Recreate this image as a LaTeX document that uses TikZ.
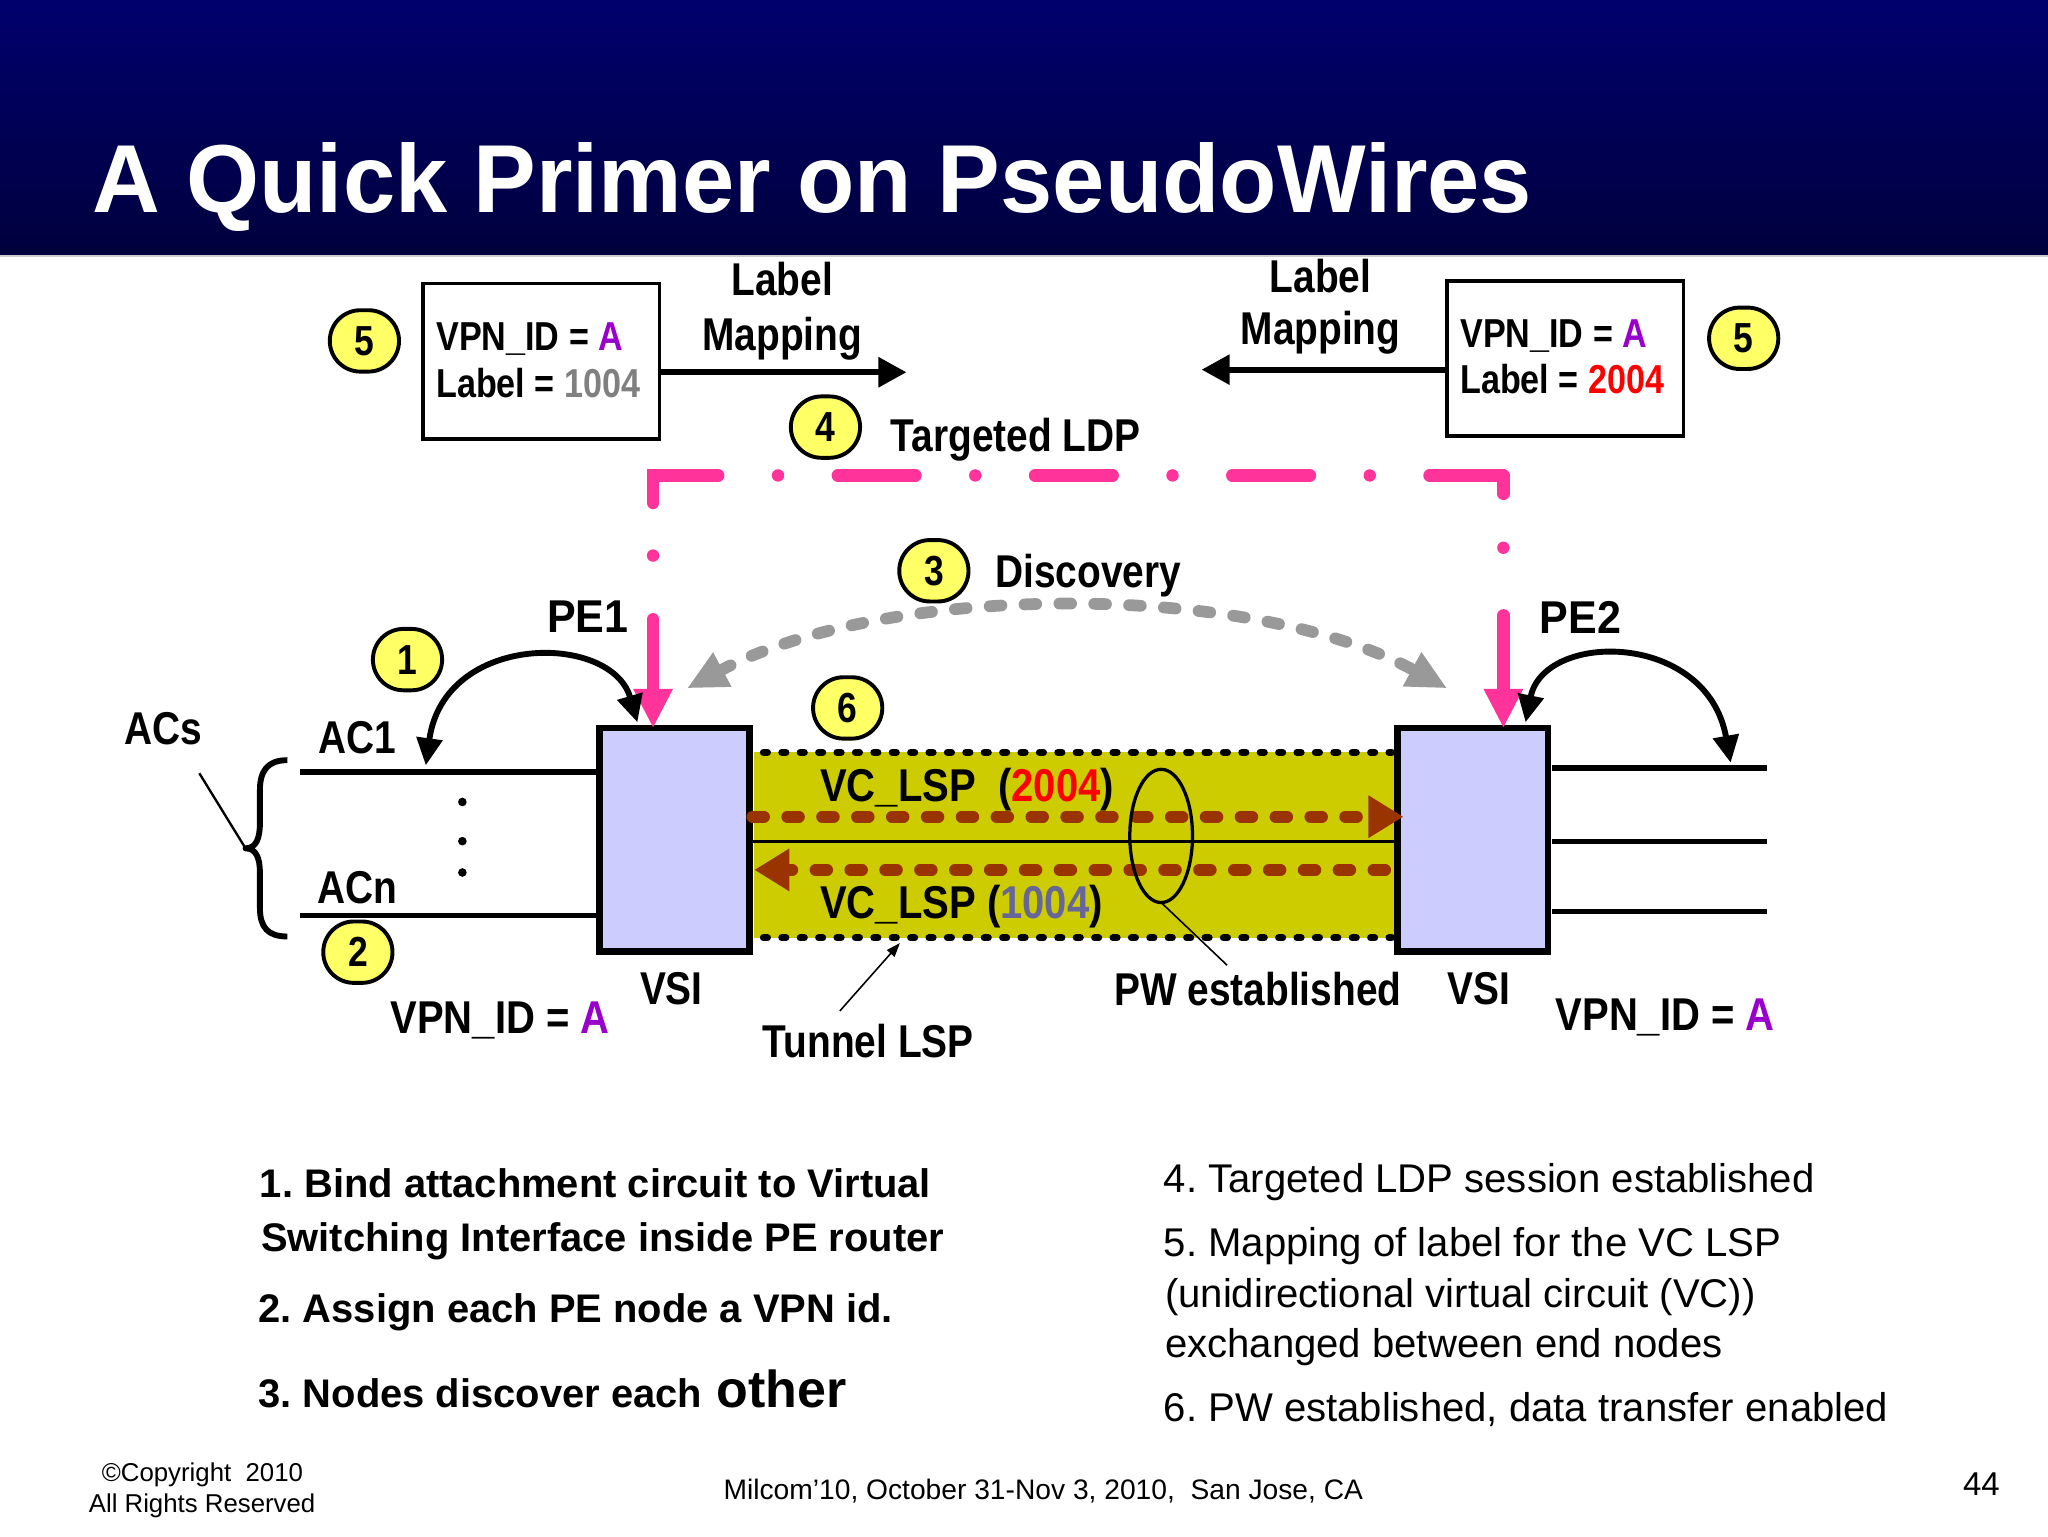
\documentclass[tikz,border=0pt]{standalone}
\usepackage{fontspec}
\usetikzlibrary{arrows.meta,shapes.geometric}
\setmainfont{Liberation Sans}
\newfontfamily\titlesans{Liberation Sans}[FakeStretch=0.972]
\newfontfamily\narrowsans{Liberation Sans}[FakeStretch=0.845]
\newfontfamily\midsans{Liberation Sans}[FakeStretch=0.87]
\newfontfamily\widesans{Liberation Sans}[FakeStretch=0.935]
\def\pxu{0.65306pt}
\frenchspacing
\definecolor{vsiblue}{HTML}{CCCCFF}
\definecolor{tunnel}{HTML}{CCCC00}
\definecolor{badge}{HTML}{FFFF66}
\definecolor{pinkl}{HTML}{FF3399}
\definecolor{brownl}{HTML}{993300}
\definecolor{greyl}{HTML}{999999}
\definecolor{purpA}{HTML}{9900CC}
\definecolor{grey1}{HTML}{808080}
\definecolor{blue1}{HTML}{666699}
\tikzset{
  txt/.style={anchor=base west, inner sep=0, outer sep=0},
  lab/.style={txt, font=\narrowsans\bfseries\fontsize{23}{26}\selectfont},
  labv/.style={txt, font=\midsans\bfseries\fontsize{23}{26}\selectfont},
  labp/.style={txt, font=\widesans\bfseries\fontsize{23}{26}\selectfont},
  labm/.style={txt, font=\narrowsans\bfseries\fontsize{20.2}{24}\selectfont},
  labc/.style={lab, anchor=base},
  stepl/.style={txt, font=\bfseries\fontsize{19.95}{24}\selectfont},
  stepr/.style={txt, font=\fontsize{20.05}{24}\selectfont},
  foot/.style={txt, font=\fontsize{12.9}{16}\selectfont},
  num/.style={draw, fill=badge, line width=3*\pxu, rounded corners=15.3pt, minimum width=53*\pxu, minimum height=47*\pxu,
    inner sep=0, outer sep=0, font=\narrowsans\bfseries\fontsize{21}{24}\selectfont},
  infobox/.style={draw, fill=white, line width=2.8*\pxu, minimum width=181*\pxu, minimum height=119*\pxu, inner sep=0, outer sep=0},
  vsi/.style={draw, fill=vsiblue, line width=5*\pxu, minimum width=115*\pxu, minimum height=171*\pxu, inner sep=0, outer sep=0},
  wire/.style={line width=4*\pxu},
  bigarrow/.style={line width=4.5*\pxu, -{Triangle[length=14pt,width=14.5pt]}},
  bendarrow/.style={line width=4.5*\pxu, {Triangle[length=13.6pt,width=12.6pt]}-{Triangle[length=13.6pt,width=12.6pt]}},
  pinkline/.style={pinkl, line width=9.5*\pxu, line cap=round, {Triangle[length=19.6pt,width=18.3pt]}-},
  dotrow/.style={line width=5.5*\pxu, line cap=round, dash pattern=on 2pt off 7.2pt, shorten <=7*\pxu, shorten >=3*\pxu},
  vclsp/.style={brownl, line width=9*\pxu, line cap=round, dash pattern=on 9*\pxu off 17.7*\pxu, -{Triangle[length=17.6pt,width=20.2pt]}},
  disc/.style={greyl, line width=9*\pxu, line cap=round, dash pattern=on 9*\pxu off 17.7*\pxu,
    {Triangle[length=20pt,width=18pt]}-{Triangle[length=20pt,width=18pt]}},
  leader/.style={line width=1.2*\pxu},
}
\begin{document}
\begin{tikzpicture}[x=\pxu,y=-\pxu]
\useasboundingbox (0,0) rectangle (1568,1176);

% Titelband
\node[rectangle, top color=blue!43!black, bottom color=blue!24!black, minimum width=1568*\pxu, minimum height=196*\pxu,
  inner sep=0, outer sep=0, anchor=north west] (banner) at (0,0) {};
\draw[gray!40, line width=0.8*\pxu] (banner.south west) -- (banner.south east);
\node[txt, text=white, font=\titlesans\bfseries\fontsize{48.3}{50}\selectfont] (title) at (71,163) {A Quick Primer on PseudoWires};

% Tunnel und VSI
\node[fill=tunnel, minimum width=491*\pxu, minimum height=142*\pxu, inner sep=0, outer sep=0] (tun) at (823,647) {};
\draw[dotrow] (tun.north west) -- (tun.north east);
\draw[dotrow] (tun.south west) -- (tun.south east);
\coordinate (midl) at (576,644);
\coordinate (midr) at (1069,644);
\draw[line width=2.5*\pxu] (midl) -- (midr);
\node[vsi] (vsi1) at (516.5,643) {};
\node[vsi] (vsi2) at (1127.5,643) {};

% VC LSP
\node[labv] (vc1) at (628,614) {VC\_LSP~ (\textcolor{red}{2004})};
\node[labv] (vc2) at (628,703) {VC\_LSP (\textcolor{blue1}{1004})};
\coordinate (fwa) at (576,625.3);
\coordinate (fwb) at (1074.5,625.3);
\coordinate (bwa) at (1060.5,666);
\coordinate (bwb) at (577.5,666);
\draw[vclsp] (fwa) -- (fwb);
\draw[vclsp] (bwa) -- (bwb);

% PW Ellipse
\node[draw, ellipse, line width=2.5*\pxu, minimum width=48*\pxu, minimum height=102*\pxu, inner sep=0, outer sep=0] (pw) at (889,640) {};
\node[lab] (pwl) at (853,770) {PW established};
\coordinate (pwe) at (939.5,739);
\draw[leader] (pw.south) -- (pwe);

% Infoboxen
\node[infobox] (box1) at (414.5,276.5) {};
\node[infobox] (box2) at (1198.5,274.5) {};
\node[labm] (b1a) at (334,268) {VPN\_ID = \textcolor{purpA}{A}};
\node[labm] (b1b) at (334,304) {Label = \textcolor{grey1}{1004}};
\node[labm] (b2a) at (1118,266) {VPN\_ID = \textcolor{purpA}{A}};
\node[labm] (b2b) at (1118,301) {Label = \textcolor{red}{2004}};

% Label Mapping
\node[labc] (lm1a) at (599,226) {Label};
\node[labc] (lm1b) at (599,268) {Mapping};
\node[labc] (lm2a) at (1011,224) {Label};
\node[labc] (lm2b) at (1011,264) {Mapping};
\coordinate (lmt1) at (694,285);
\coordinate (lmt2) at (920,283);
\draw[bigarrow] (box1.east |- lmt1) -- (lmt1);
\draw[bigarrow] (box2.west |- lmt2) -- (lmt2);

% Targeted LDP
\coordinate (tl) at (500,364);
\coordinate (tr) at (1151,364);
\draw[pinkline, dash pattern=on 36.08pt off 31.84pt on 0pt off 26.29pt on 46.37pt off 29.88pt on 0pt off 29.88pt
  on 38.86pt off 29.88pt on 0pt off 29.88pt on 38.86pt off 29.88pt on 0pt off 29.88pt on 38.86pt off 29.88pt on 0pt off 29.88pt on 60pt]
  (vsi1.north -| tl) -- (tl) -- (tr);
\draw[pinkline, dash pattern=on 38.04pt off 33.8pt on 0pt off 26.94pt on 30pt] (vsi2.north -| tr) -- (tr);
\node[lab] (ldp) at (682,346) {Targeted LDP};

% Discovery
\coordinate (da) at (526,527);
\coordinate (db) at (1108,527);
\draw[disc] (da) .. controls (680,445) and (957,445) .. (db);
\node[lab] (dsc) at (762,450) {Discovery};

% ACs
\coordinate (ac1r) at (326,586);
\coordinate (ac2l) at (1325,584);
\coordinate (b1t) at (488,553);
\coordinate (b2t) at (1168,553);
\draw[bendarrow] (ac1r) .. controls (340,484) and (468,484) .. (b1t);
\draw[bendarrow] (b2t) .. controls (1182,483) and (1307,483) .. (ac2l);

\coordinate (w1) at (230,591);
\coordinate (w2) at (230,701);
\coordinate (w3) at (1188,588);
\coordinate (w3e) at (1353,588);
\coordinate (w4) at (1188,644);
\coordinate (w4e) at (1353,644);
\coordinate (w5) at (1188,698);
\coordinate (w5e) at (1353,698);
\draw[wire] (w1) -- (vsi1.west |- w1);
\draw[wire] (w2) -- (vsi1.west |- w2);
\draw[wire] (w3) -- (w3e);
\draw[wire] (w4) -- (w4e);
\draw[wire] (w5) -- (w5e);

\foreach \yy in {614,644,668} \fill (354,\yy) circle [radius=3.3*\pxu];

% Klammer
\coordinate (brt) at (220,582);
\coordinate (brb) at (220,717);
\coordinate (acsb) at (188,649.5);
\draw[line width=4.5*\pxu, line join=round] (brt) .. controls (205,582) and (199,590) .. (199,605) -- (199,630)
  .. controls (199,642) and (196,649.5) .. (acsb) .. controls (196,649.5) and (199,657) .. (199,668)
  -- (199,695) .. controls (199,710) and (205,717) .. (brb);
\coordinate (acsa) at (152.6,592);
\draw[line width=1.8*\pxu] (acsa) -- (acsb);
\node[lab] (acs) at (95,570) {ACs};
\node[lab] (ac1) at (244,577) {AC1};
\node[lab] (acn) at (243,692) {ACn};
\node[labp] (pe1) at (419,484) {PE1};
\node[labp] (pe2) at (1179,485) {PE2};
\node[lab] (vl1) at (490,769) {VSI};
\node[lab] (vl2) at (1108,769) {VSI};
\node[labv] (vp1) at (299,791) {VPN\_ID = \textcolor{purpA}{A}};
\node[labv] (vp2) at (1191,789) {VPN\_ID = \textcolor{purpA}{A}};
\node[lab] (tlsp) at (584,810) {Tunnel LSP};
\coordinate (tsa) at (643,774);
\coordinate (tsb) at (689,722);
\draw[leader, -{Triangle[length=7pt,width=5pt]}] (tsa) -- (tsb);

% Nummern
\node[num] (n5a) at (279,261) {5};
\node[num] (n5b) at (1335,259) {5};
\node[num] (n4) at (632,327) {4};
\node[num] (n3) at (715,437) {3};
\node[num] (n1) at (312,505) {1};
\node[num] (n6) at (649,542) {6};
\node[num] (n2) at (274,729) {2};

% Text unten
\node[stepl] (s1a) at (199,916.5) {1. Bind attachment circuit to Virtual};
\node[stepl] (s1b) at (200,958.5) {Switching Interface inside PE router};
\node[stepl] (s2) at (198,1012.5) {2. Assign each PE node a VPN id.};
\node[stepl] (s3) at (198,1077.5) {3. Nodes discover each\hspace{1.5pt} \fontsize{26}{28}\selectfont other};
\node[stepr] (s4) at (891,913) {4. Targeted LDP session established};
\node[stepr] (s5a) at (891,962) {5. Mapping of label for the VC LSP};
\node[stepr] (s5b) at (892,1001) {(unidirectional virtual circuit (VC))};
\node[stepr] (s5c) at (892,1039) {exchanged between end nodes};
\node[stepr] (s6) at (891,1088) {6. PW established, data transfer enabled};

% Fusszeile
\node[foot] (f1) at (78,1134) {\textcopyright Copyright~ 2010};
\node[foot] (f2) at (68,1158) {All Rights Reserved};
\node[foot, font=\fontsize{14.1}{16}\selectfont] (f3) at (554,1148) {Milcom’10, October 31-Nov 3, 2010,~ San Jose, CA};
\node[txt, font=\fontsize{16.5}{18}\selectfont] (f4) at (1503,1145) {44};
\end{tikzpicture}
\end{document}
